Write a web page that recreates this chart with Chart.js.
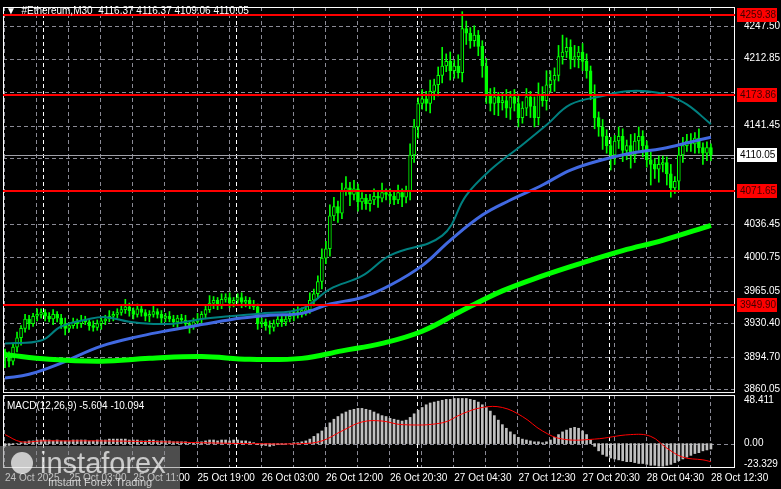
<!DOCTYPE html>
<html>
<head>
<meta charset="utf-8">
<script src="https://cdn.jsdelivr.net/npm/chart.js@4.4.1/dist/chart.umd.min.js"></script>
<style>
  html, body { margin: 0; padding: 0; background: #000; }
  #wrap { width: 781px; height: 489px; }
</style>
</head>
<body>
<div id="wrap"><canvas id="chart" width="781" height="489"></canvas></div>
<script>
// M30 closes, one per bar (24 Oct -> 28 Oct 12:30)
const closes = [
  3895,3890,3905,3915,3925,3935,3930,3938,3940,3942,
  3938,3935,3940,3936,3930,3925,3928,3932,3930,3934,
  3932,3928,3926,3930,3933,3935,3938,3940,3942,3945,
  3948,3944,3940,3946,3942,3938,3940,3943,3940,3936,
  3938,3935,3932,3936,3934,3930,3928,3932,3935,3940,
  3945,3952,3955,3950,3956,3958,3952,3955,3958,3953,
  3955,3950,3948,3930,3932,3928,3926,3930,3935,3932,
  3935,3938,3942,3940,3944,3945,3955,3962,3975,4000,
  4010,4045,4055,4048,4072,4075,4068,4074,4060,4064,
  4058,4062,4066,4064,4070,4068,4066,4062,4070,4065,
  4072,4110,4140,4165,4170,4165,4178,4185,4195,4205,
  4210,4200,4205,4198,4245,4240,4232,4238,4226,4205,
  4175,4165,4172,4166,4168,4160,4172,4165,4150,4160,
  4172,4162,4150,4175,4168,4185,4190,4195,4215,4220,
  4225,4212,4215,4220,4210,4200,4175,4150,4140,4130,
  4120,4110,4125,4130,4115,4120,4110,4125,4130,4120,
  4105,4100,4095,4100,4102,4090,4075,4082,4110,4120,
  4125,4122,4128,4118,4112,4118,4110
];
const firstOpen = 3900;
const wickUp = [
  3,5,4,6,3,5,4,3,6,4, 3,4,5,3,4,6,3,4,3,5, 4,3,5,4,3,4,6,3,4,5,
  8,4,3,5,4,3,4,6,3,4, 3,5,4,3,4,5,3,4,6,3, 5,8,4,3,6,4,5,3,4,5,
  4,3,5,3,4,3,5,4,3,4, 3,5,4,6,3,4,8,5,6,10, 8,12,10,6,8,12,6,9,5,6,
  4,6,8,5,10,4,6,5,8,4, 5,12,8,6,10,8,12,6,9,20, 8,10,6,12,18,8,6,10,5,6,
  8,6,10,5,8,12,6,8,10,7, 9,6,10,12,8,15,10,8,12,18, 10,8,12,6,9,8,5,10,6,8,
  7,9,6,10,8,6,12,8,10,6, 5,8,6,9,7,6,10,5,8,9, 7,8,6,10,5,6,4
];
const wickDn = [
  12,6,4,5,8,4,6,3,5,4, 5,3,6,4,5,7,4,3,5,4, 3,5,4,3,6,4,3,5,4,3,
  4,6,5,3,4,5,6,3,4,5, 4,3,5,6,4,3,8,4,3,5, 4,3,6,5,4,3,5,4,3,6,
  5,4,3,6,4,5,7,4,3,5, 4,3,5,4,3,5,4,6,5,8, 6,8,5,10,6,5,12,6,10,8,
  6,8,5,10,4,6,8,5,4,10, 6,10,8,12,6,8,10,9,12,8, 6,10,8,6,10,12,8,6,10,12,
  10,8,12,14,8,10,12,8,10,6, 8,12,10,8,6,10,8,12,6,8, 6,10,8,12,10,8,6,12,10,14,
  8,16,10,8,12,10,14,8,10,12, 8,22,10,14,8,12,10,6,10,8, 6,8,10,6,12,8,6
];

// moving averages, read as (bar, price) points
const maTealBars   = [0,9,14,21,25,31,36,42,49,56,64,74,81,89,96,109,115,121,129,135,141,149,155,160,165,170,176];
const maTealVals   = [3909,3912,3927,3935,3937,3932,3930,3930,3935,3938,3941,3946,3967,3981,4003,4024,4067,4094,4121,4142,4164,4173,4178,4178,4174,4164,4143];
const maBlueBars   = [0,6,14,24,34,41,49,59,66,74,81,89,96,104,111,119,126,134,141,149,156,164,171,176];
const maBlueVals   = [3872,3876,3888,3906,3917,3923,3929,3936,3939,3941,3951,3958,3971,3992,4019,4046,4062,4078,4094,4105,4112,4117,4124,4129];
const maGreenBars  = [0,11,24,36,49,61,74,84,94,104,114,124,134,144,154,164,176];
const maGreenVals  = [3897,3892,3890,3893,3895,3892,3893,3901,3909,3922,3944,3965,3981,3995,4008,4019,4035];

// MACD(12,26,9)
const macdHist = [
  -3,-2,-1,0,1,2,3,3,4,4, 4,4,3,4,3,3,3,4,4,4, 4,3,3,4,4,4,5,5,5,5,
  5,4,4,4,3,3,4,4,3,3, 3,3,2,2,2,2,1,1,2,2, 3,4,4,3,4,4,3,4,4,3,
  3,2,1,-1,-2,-2,-3,-2,-1,-1, 0,0,1,1,2,3,5,8,11,14, 18,23,27,30,33,35,37,38,39,39,
  38,37,35,33,31,30,28,27,26,25, 26,29,33,37,40,43,45,46,47,48, 49,49,50,50,50,50,49,48,46,43,
  40,36,31,26,21,17,13,10,7,5, 4,3,2,2,1,2,4,7,10,13, 15,17,18,17,14,10,4,-3,-8,-12,
  -14,-16,-17,-18,-19,-20,-20,-21,-22,-22, -23,-24,-24,-25,-25,-24,-23,-21,-19,-17, -15,-13,-11,-10,-8,-7,-6
];
const signalBars = [0,4,9,16,24,39,49,61,74,79,84,89,94,99,109,114,119,124,129,134,139,147,156,161,165,169,174,176];
const signalVals = [10,2,3,3,3,2,1,0,0,3,14,24,25,21,23,33,40,40,30,14,5,5,10,8,-5,-15,-18,-20];

// levels and labels
const resLevels = [4259.38, 4173.86, 4071.65, 3949.90];
const lastPrice = 4110.05;
const priceTicks = [4247.50, 4212.85, 4177.15, 4141.45, 4106.80, 4071.10, 4036.45, 4000.75, 3965.05, 3930.40, 3894.70, 3860.05];
const hiddenTicks = [4177.15, 4106.80, 4071.10];
const macdTicks = [48.411, 0, -23.329];
const timeLabels = ['24 Oct 2025','25 Oct 03:00','25 Oct 11:00','25 Oct 19:00','26 Oct 03:00','26 Oct 12:00','26 Oct 20:30','27 Oct 04:30','27 Oct 12:30','27 Oct 20:30','28 Oct 04:30','28 Oct 12:30'];
const dayStarts = [9.5, 57.5, 102.75, 150.5];

const opens = closes.map((c, i) => i === 0 ? firstOpen : closes[i - 1]);
const wicks = closes.map((c, i) => ({ x: i, y: [Math.min(opens[i], c) - wickDn[i], Math.max(opens[i], c) + wickUp[i]] }));
const bodies = closes.map((c, i) => ({ x: i, y: [opens[i], c === opens[i] ? c + 0.5 : c] }));
const bull = closes.map((c, i) => c >= opens[i]);
const pts = (xs, ys) => xs.map((x, i) => ({ x: x, y: ys[i] }));

const FONT = '"Liberation Sans", Arial, sans-serif';

const mtPlugin = {
  id: 'mt',
  beforeDatasetsDraw(chart) {
    const { ctx, chartArea: a, scales: { x, y, m } } = chart;
    ctx.save();
    ctx.lineWidth = 1;
    ctx.strokeStyle = '#8a8a95';
    ctx.setLineDash([4, 3]);
    for (let b = -0.25; b <= 180; b += 8) {
      const px = Math.round(x.getPixelForValue(b)) + 0.5;
      ctx.beginPath(); ctx.moveTo(px, a.top); ctx.lineTo(px, y.bottom); ctx.stroke();
      ctx.beginPath(); ctx.moveTo(px, m.top + 2); ctx.lineTo(px, a.bottom); ctx.stroke();
    }
    priceTicks.forEach(v => {
      const py = Math.round(y.getPixelForValue(v)) + 0.5;
      ctx.beginPath(); ctx.moveTo(a.left, py); ctx.lineTo(a.right, py); ctx.stroke();
    });
    const zy = Math.round(m.getPixelForValue(0)) + 0.5;
    ctx.beginPath(); ctx.moveTo(a.left, zy); ctx.lineTo(a.right, zy); ctx.stroke();
    ctx.strokeStyle = '#ffffff';
    dayStarts.forEach(b => {
      const px = Math.round(x.getPixelForValue(b)) + 0.5;
      ctx.beginPath(); ctx.moveTo(px, a.top); ctx.lineTo(px, y.bottom); ctx.stroke();
      ctx.beginPath(); ctx.moveTo(px, m.top + 2); ctx.lineTo(px, a.bottom); ctx.stroke();
    });
    ctx.setLineDash([]);
    const ly = Math.round(y.getPixelForValue(lastPrice)) + 0.5;
    ctx.strokeStyle = '#a0a0a8';
    ctx.beginPath(); ctx.moveTo(a.left, ly); ctx.lineTo(a.right, ly); ctx.stroke();
    ctx.restore();
  },
  afterDatasetsDraw(chart) {
    const { ctx, chartArea: a, scales: { x, y, m } } = chart;
    ctx.save();
    ctx.fillStyle = '#000';
    ctx.fillRect(a.left, y.bottom - 0.5, a.right - a.left, 3);
    ctx.strokeStyle = '#ffffff';
    ctx.lineWidth = 1;
    ctx.strokeRect(a.left + 0.5, a.top + 0.5, a.right - a.left - 1, y.bottom - a.top - 1);
    ctx.strokeRect(a.left + 0.5, m.top + 2.5, a.right - a.left - 1, a.bottom - m.top - 3);
    // resistance / support lines
    ctx.strokeStyle = '#ff0000';
    ctx.lineWidth = 2;
    ctx.font = '10px ' + FONT;
    ctx.textBaseline = 'middle';
    resLevels.forEach(v => {
      const py = Math.round(y.getPixelForValue(v));
      ctx.beginPath(); ctx.moveTo(a.left, py); ctx.lineTo(a.right, py); ctx.stroke();
      ctx.fillStyle = '#ff0000';
      ctx.fillRect(a.right + 2, py - 7, 40, 14);
      ctx.fillStyle = '#400000';
      ctx.fillText(v.toFixed(2), a.right + 5, py);
    });
    const ly = Math.round(y.getPixelForValue(lastPrice));
    ctx.fillStyle = '#ffffff';
    ctx.fillRect(a.right + 2, ly - 7, 40, 14);
    ctx.fillStyle = '#000';
    ctx.fillText(lastPrice.toFixed(2), a.right + 5, ly);
    // titles
    ctx.fillStyle = '#ffffff';
    ctx.fillText('\u25BC  #Ethereum,M30  4116.37 4116.37 4109.06 4110.05', 6, 11);
    ctx.fillText('MACD(12,26,9) -5.604 -10.094', 7, m.top + 13);
    // time labels
    ctx.textBaseline = 'top';
    timeLabels.forEach((t, k) => {
      const b = k === 0 ? -0.25 : 15.75 + 16 * (k - 1);
      ctx.fillText(t, x.getPixelForValue(b) + 1, a.bottom + 5);
    });
    // watermark
    ctx.fillStyle = 'rgba(140,140,140,0.55)';
    ctx.fillRect(0, 446, 180, 43);
    ctx.fillStyle = 'rgba(255,255,255,0.7)';
    ctx.beginPath(); ctx.arc(22, 463, 11, 0, Math.PI * 2); ctx.fill();
    ctx.font = '29px ' + FONT;
    ctx.textBaseline = 'alphabetic';
    ctx.fillText('instaforex', 40, 473);
    ctx.font = '11px ' + FONT;
    ctx.fillText('Instant Forex Trading', 48, 486);
    ctx.restore();
  }
};

new Chart(document.getElementById('chart'), {
  data: {
    datasets: [
      { type: 'bar', data: wicks, yAxisID: 'y', backgroundColor: '#00ff00', barThickness: 1, grouped: false, order: 3 },
      { type: 'bar', data: bodies, yAxisID: 'y', grouped: false, barThickness: 3, order: 2,
        backgroundColor: bull.map(u => u ? '#000000' : '#00ff00'), borderColor: '#00ff00', borderWidth: 1, borderSkipped: false },
      { type: 'line', data: pts(maGreenBars, maGreenVals), yAxisID: 'y', borderColor: '#00ff00', borderWidth: 5, pointRadius: 0, tension: 0.4, order: 1 },
      { type: 'line', data: pts(maBlueBars, maBlueVals), yAxisID: 'y', borderColor: '#4169e1', borderWidth: 3, pointRadius: 0, tension: 0.4, order: 1 },
      { type: 'line', data: pts(maTealBars, maTealVals), yAxisID: 'y', borderColor: '#008080', borderWidth: 2, pointRadius: 0, tension: 0.4, order: 1 },
      { type: 'bar', data: macdHist.map((v, i) => ({ x: i, y: v })), yAxisID: 'm', backgroundColor: '#c0c0c0', barThickness: 2, grouped: false, order: 2 },
      { type: 'line', data: pts(signalBars, signalVals), yAxisID: 'm', borderColor: '#ff0000', borderWidth: 1, pointRadius: 0, tension: 0.4, order: 1 }
    ]
  },
  options: {
    responsive: false,
    animation: false,
    plugins: { legend: { display: false }, tooltip: { enabled: false } },
    layout: { padding: { left: 3, top: 5, bottom: 21, right: 0 } },
    scales: {
      x: { type: 'linear', offset: false, min: -0.5, max: 182, display: false },
      y: {
        position: 'right', stack: 'p', stackWeight: 5.15, min: 3856, max: 4268,
        grid: { display: false }, border: { display: false },
        afterBuildTicks: s => { s.ticks = priceTicks.filter(v => !hiddenTicks.includes(v)).map(v => ({ value: v })); },
        afterFit: s => { s.width = 46; },
        ticks: { color: '#ffffff', font: { size: 10, family: FONT }, padding: 1, callback: v => v.toFixed(2) }
      },
      m: {
        position: 'right', stack: 'p', stackWeight: 1, min: -27, max: 56,
        grid: { display: false }, border: { display: false },
        afterBuildTicks: s => { s.ticks = macdTicks.map(v => ({ value: v })); },
        afterFit: s => { s.width = 46; },
        ticks: { color: '#ffffff', font: { size: 10, family: FONT }, padding: 1,
          callback: v => v === 0 ? '0.00' : v.toString() }
      }
    }
  },
  plugins: [mtPlugin]
});
</script>
</body>
</html>
